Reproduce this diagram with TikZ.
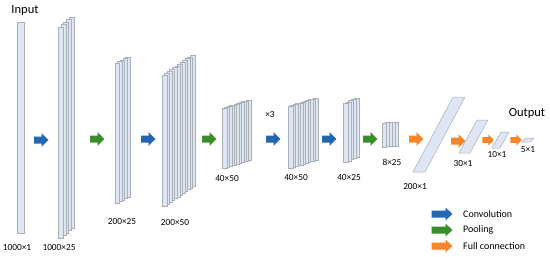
\documentclass[tikz,border=0pt]{standalone}
\usepackage{fontspec}
\setmainfont{Carlito}
\definecolor{slabfill}{RGB}{222,230,243}
\definecolor{slabline}{RGB}{170,175,182}
\definecolor{convblue}{RGB}{36,102,178}
\definecolor{poolgreen}{RGB}{58,140,44}
\definecolor{fcorange}{RGB}{247,134,42}
\newcommand\slabstack[7]{%
  \foreach \i in {#5,...,0}{\draw[slab] ({#1+\i*#6},{#2-\i*#7}) rectangle ++(#3,#4);}}
\newcommand\barrow[3]{%
  \fill[#3,shift={(#1,#2)}] (-7,-3.5) -- (0.5,-3.5) -- (0.5,-6.8) -- (7.5,0) -- (0.5,6.8) -- (0.5,3.5) -- (-7,3.5) -- cycle;}
\newcommand\legarrow[3]{%
  \fill[#3,shift={(#1,#2)}] (-10.5,-3.5) -- (3.5,-3.5) -- (3.5,-6.5) -- (10.5,0) -- (3.5,6.5) -- (3.5,3.5) -- (-10.5,3.5) -- cycle;}
\tikzset{
  slab/.style={fill=slabfill,draw=slabline,line width=0.5pt},
  dimlabel/.style={font=\fontsize{9.3}{10}\selectfont,inner sep=0pt},
  legtext/.style={font=\fontsize{10}{12}\selectfont,inner sep=0pt,anchor=west},
  title/.style={font=\fontsize{12.5}{14}\selectfont,inner sep=0pt}
}
\begin{document}
\begin{tikzpicture}[x=1pt,y=-1pt]
\fill[white] (0,0) rectangle (550,257);
\useasboundingbox (0,0) rectangle (550,257);
% Input
\node[title] (input) at (25,10) {Input};
\draw[slab] (17,22) rectangle (24,233);
\node[dimlabel] (l1) at (17,248) {1000×1};
\barrow{41}{140}{convblue}
% 1000x25
\slabstack{58}{27}{5}{211}{4}{2.75}{2.5}
\node[dimlabel] (l2) at (59,248) {1000×25};
\barrow{97}{139}{poolgreen}
% 200x25
\slabstack{115}{63}{4.5}{140}{4}{2.6}{1.5}
\node[dimlabel] (l3) at (122,222) {200×25};
\barrow{148}{139}{convblue}
% 200x50
\slabstack{162}{75}{5}{131}{11}{2.55}{1.82}
\node[dimlabel] (l4) at (175,223) {200×50};
\barrow{209}{139}{poolgreen}
% 40x50
\slabstack{222}{108}{5}{60}{10}{2.4}{0.8}
\node[dimlabel] (l5) at (227,179) {40×50};
\node[dimlabel] (x3) at (270,115) {×3};
\barrow{273}{139}{convblue}
% 40x50 second
\slabstack{288}{106}{5}{62}{10}{2.5}{0.8}
\node[dimlabel] (l6) at (296,178) {40×50};
\barrow{329}{139}{convblue}
% 40x25
\slabstack{343}{103}{5}{59}{4}{2.75}{1.25}
\node[dimlabel] (l7) at (349,178) {40×25};
\barrow{370}{139}{poolgreen}
% 8x25
\slabstack{382}{123}{4}{24}{4}{3}{0.3}
\node[dimlabel] (l8) at (392,162) {8×25};
\barrow{416}{139}{fcorange}
% 200x1
\draw[slab] (413,172) -- (425,172) -- (465,97) -- (453,97) -- cycle;
\node[dimlabel] (l9) at (415,187) {200×1};
\barrow{458}{141}{fcorange}
% 30x1
\draw[slab] (459,153) -- (470,153) -- (488,120) -- (477,120) -- cycle;
\node[dimlabel] (l10) at (463,164) {30×1};
\begin{scope}[shift={(488,140)},scale=0.8]\barrow{0}{0}{fcorange}\end{scope}
% 10x1
\draw[slab] (492,148) -- (500,148) -- (509,132) -- (501,132) -- cycle;
\node[dimlabel] (l11) at (497,155) {10×1};
\begin{scope}[shift={(516,140)},scale=0.8]\barrow{0}{0}{fcorange}\end{scope}
% 5x1
\draw[slab] (522,142) -- (530,142) -- (534,138) -- (526,138) -- cycle;
\node[dimlabel] (l12) at (528,150) {5×1};
\node[title] (output) at (527,113) {Output};
% legend
\legarrow{442}{214}{convblue}
\node[legtext] (lc) at (463,214) {Convolution};
\legarrow{442}{230}{poolgreen}
\node[legtext] (lp) at (463,230) {Pooling};
\legarrow{442}{246}{fcorange}
\node[legtext] (lf) at (463,246) {Full connection};
\end{tikzpicture}
\end{document}
